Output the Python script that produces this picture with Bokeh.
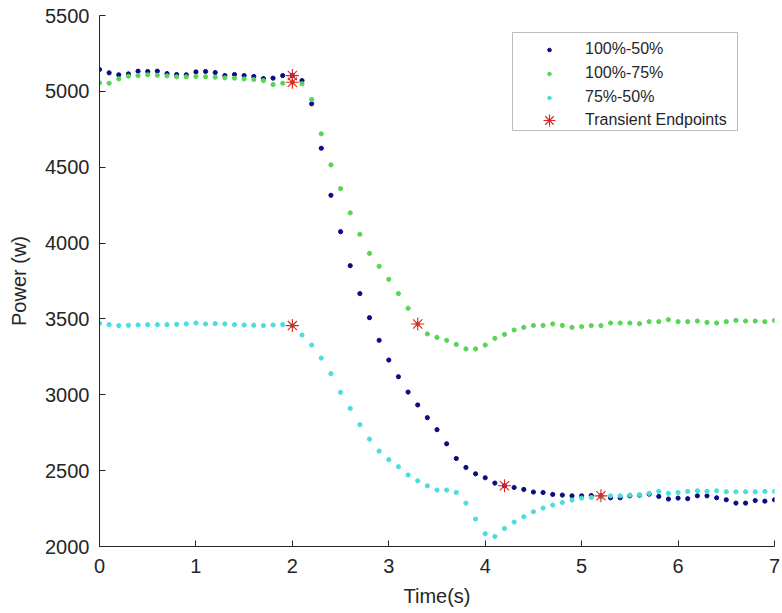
from bokeh.plotting import figure
from bokeh.models import Range1d, FixedTicker, Legend, LegendItem, BoxAnnotation
from bokeh.embed import file_html
from bokeh.resources import INLINE

# ---------------- data ----------------
time_s = [0.0, 0.1, 0.2, 0.3, 0.4, 0.5, 0.6, 0.7, 0.8, 0.9,
          1.0, 1.1, 1.2, 1.3, 1.4, 1.5, 1.6, 1.7, 1.8, 1.9,
          2.0, 2.1, 2.2, 2.3, 2.4, 2.5, 2.6, 2.7, 2.8, 2.9,
          3.0, 3.1, 3.2, 3.3, 3.4, 3.5, 3.6, 3.7, 3.8, 3.9,
          4.0, 4.1, 4.2, 4.3, 4.4, 4.5, 4.6, 4.7, 4.8, 4.9,
          5.0, 5.1, 5.2, 5.3, 5.4, 5.5, 5.6, 5.7, 5.8, 5.9,
          6.0, 6.1, 6.2, 6.3, 6.4, 6.5, 6.6, 6.7, 6.8, 6.9,
          7.0]

power_100_50 = [5144, 5122, 5109, 5115, 5133, 5131, 5133, 5117, 5111, 5109,
                5128, 5131, 5124, 5104, 5111, 5104, 5098, 5084, 5087, 5104,
                5104, 5071, 4918, 4625, 4315, 4075, 3851, 3667, 3508, 3359,
                3229, 3119, 3018, 2933, 2849, 2770, 2677, 2580, 2521, 2479,
                2453, 2418, 2400, 2389, 2376, 2359, 2356, 2343, 2339, 2334,
                2334, 2336, 2334, 2321, 2321, 2334, 2338, 2345, 2330, 2313,
                2319, 2315, 2334, 2334, 2321, 2308, 2286, 2286, 2303, 2299,
                2308]

power_100_75 = [5056, 5054, 5082, 5100, 5104, 5109, 5106, 5102, 5096, 5096,
                5098, 5096, 5093, 5089, 5087, 5082, 5078, 5071, 5045, 5054,
                5060, 5050, 4946, 4720, 4515, 4359, 4199, 4058, 3932, 3847,
                3761, 3667, 3570, 3467, 3401, 3378, 3359, 3332, 3302, 3302,
                3328, 3372, 3398, 3427, 3444, 3457, 3457, 3467, 3457, 3444,
                3449, 3456, 3456, 3473, 3473, 3473, 3469, 3482, 3482, 3495,
                3482, 3482, 3486, 3477, 3473, 3482, 3490, 3486, 3486, 3482,
                3490]

power_75_50 = [3471, 3462, 3456, 3458, 3460, 3462, 3462, 3462, 3464, 3467,
               3473, 3467, 3469, 3467, 3462, 3460, 3458, 3456, 3460, 3462,
               3456, 3394, 3328, 3242, 3139, 3016, 2910, 2803, 2708, 2629,
               2572, 2526, 2471, 2433, 2400, 2372, 2372, 2356, 2286, 2181,
               2084, 2066, 2119, 2161, 2196, 2229, 2253, 2273, 2290, 2306,
               2319, 2323, 2327, 2334, 2334, 2339, 2341, 2350, 2363, 2350,
               2356, 2363, 2367, 2363, 2367, 2361, 2361, 2361, 2361, 2363,
               2363]

endpoint_t = [2.0, 2.0, 2.0, 3.3, 4.2, 5.2]
endpoint_p = [5104, 5060, 3456, 3467, 2400, 2334]

series_labels = ["100%-50%", "100%-75%", "75%-50%", "Transient Endpoints"]
x_ticks = [0, 1, 2, 3, 4, 5, 6, 7]
y_ticks = [2000, 2500, 3000, 3500, 4000, 4500, 5000, 5500]

# ---------------- styling ----------------
FONT = "Liberation Sans"
TXT = "#262626"
C_BLUE = "#0b0b84"
C_GREEN = "#55d655"
C_CYAN = "#48dede"
C_RED = "#e3231c"

p = figure(width=782, height=613,
           x_range=Range1d(0, 7), y_range=Range1d(2000, 5500),
           output_backend="svg", toolbar_location=None,
           min_border_left=99, min_border_right=8,
           min_border_top=15, min_border_bottom=67,
           background_fill_color="white", border_fill_color="white")
p.outline_line_color = None
p.xgrid.visible = False
p.ygrid.visible = False

for ax in (p.xaxis[0], p.yaxis[0]):
    ax.axis_line_color = TXT
    ax.axis_line_width = 1
    ax.major_tick_line_color = TXT
    ax.major_tick_in = 6
    ax.major_tick_out = 0
    ax.minor_tick_line_color = None
    ax.major_label_text_font = FONT
    ax.major_label_text_font_size = "20px"
    ax.major_label_text_color = TXT
    ax.axis_label_text_font = FONT
    ax.axis_label_text_font_size = "20px"
    ax.axis_label_text_font_style = "normal"
    ax.axis_label_text_color = TXT

p.xaxis.ticker = FixedTicker(ticks=x_ticks)
p.yaxis.ticker = FixedTicker(ticks=y_ticks)
p.xaxis.axis_label = "Time(s)"
p.yaxis.axis_label = "Power (w)"
p.xaxis.major_label_standoff = 12
p.yaxis.major_label_standoff = 10
p.xaxis.axis_label_standoff = 9
p.yaxis.axis_label_standoff = 12

r1 = p.scatter(time_s, power_100_50, size=4.2, color=C_BLUE)
r2 = p.scatter(time_s, power_100_75, size=4.2, color=C_GREEN)
r3 = p.scatter(time_s, power_75_50, size=4.2, color=C_CYAN)
r4 = p.scatter(endpoint_t, endpoint_p, marker="asterisk", size=13,
               line_color=C_RED, line_width=1.1)

# legend frame
frame_box = BoxAnnotation(left=512, right=737, top=32, bottom=130,
                          left_units="canvas", right_units="canvas",
                          top_units="canvas", bottom_units="canvas",
                          fill_color="white", fill_alpha=1.0,
                          line_color=TXT, line_width=1)
p.add_layout(frame_box)

common = dict(orientation="vertical", padding=0, margin=0, spacing=6,
              label_height=18, label_text_font=FONT,
              label_text_font_size="16px", label_text_color=TXT,
              border_line_color=None, background_fill_alpha=0.0)

leg_dots = Legend(items=[LegendItem(label=series_labels[0], renderers=[r1]),
                         LegendItem(label=series_labels[1], renderers=[r2]),
                         LegendItem(label=series_labels[2], renderers=[r3])],
                  location=(440, 440), glyph_width=20, glyph_height=9,
                  label_standoff=26, **common)
leg_star = Legend(items=[LegendItem(label=series_labels[3], renderers=[r4])],
                  location=(435, 411), glyph_width=30, glyph_height=30,
                  label_standoff=21, **common)
p.add_layout(leg_dots)
p.add_layout(leg_star)

open("out.html", "w").write(file_html(p, INLINE))
